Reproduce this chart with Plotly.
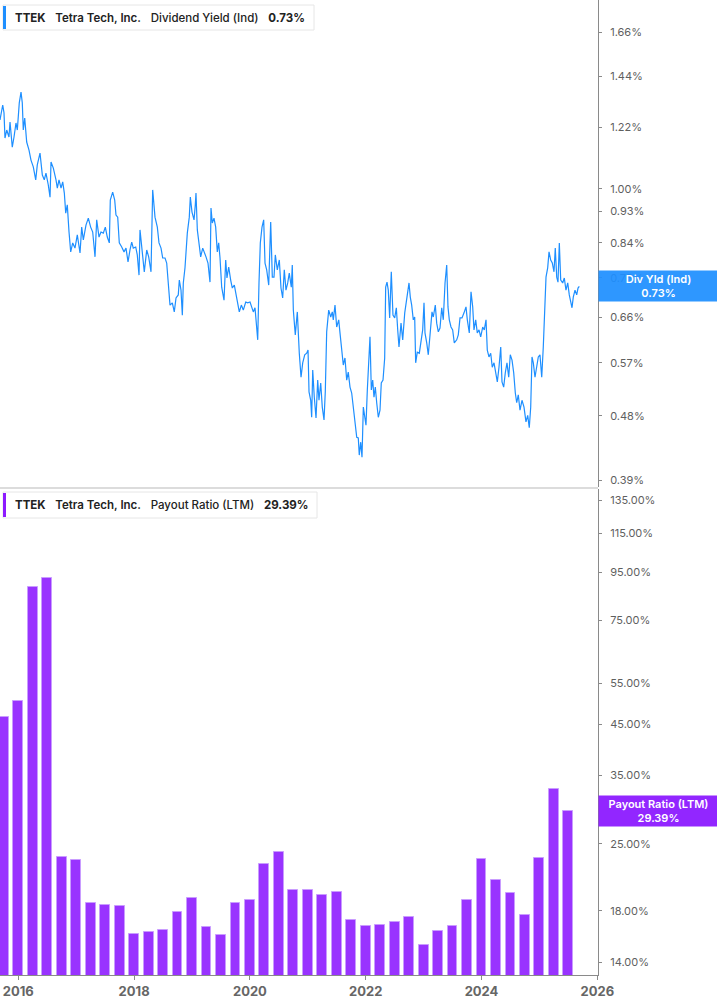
import math
import plotly.graph_objects as go

# ---------------- data ----------------
# Dividend yield (Ind), % — x in decimal years
dy_years = [
2015.684,2015.731,2015.753,2015.770,2015.800,2015.839,2015.857,2015.896,2015.926,2015.960,
2015.983,2016.017,2016.047,2016.069,2016.086,2016.111,2016.145,2016.185,2016.219,2016.259,
2016.301,2016.328,2016.375,2016.415,2016.449,2016.478,2016.518,2016.548,2016.565,2016.605,
2016.651,2016.674,2016.703,2016.738,2016.767,2016.795,2016.819,2016.846,2016.876,2016.905,
2016.940,2016.979,2017.019,2017.066,2017.095,2017.123,2017.169,2017.209,2017.250,2017.285,
2017.325,2017.354,2017.394,2017.428,2017.468,2017.503,2017.537,2017.572,2017.589,2017.630,
2017.665,2017.687,2017.717,2017.744,2017.786,2017.826,2017.860,2017.895,2017.929,2017.959,
2017.986,2018.028,2018.055,2018.085,2018.102,2018.142,2018.176,2018.218,2018.252,2018.292,
2018.321,2018.361,2018.401,2018.430,2018.465,2018.494,2018.534,2018.563,2018.591,2018.620,
2018.660,2018.694,2018.724,2018.763,2018.781,2018.810,2018.833,2018.850,2018.879,2018.919,
2018.953,2018.971,2019.000,2019.035,2019.057,2019.069,2019.092,2019.121,2019.150,2019.185,
2019.212,2019.242,2019.276,2019.311,2019.328,2019.351,2019.380,2019.409,2019.437,2019.461,
2019.484,2019.513,2019.553,2019.582,2019.604,2019.634,2019.668,2019.696,2019.731,2019.760,
2019.794,2019.817,2019.852,2019.886,2019.928,2019.962,2020.002,2020.031,2020.059,2020.088,
2020.118,2020.135,2020.157,2020.180,2020.209,2020.238,2020.261,2020.290,2020.325,2020.342,
2020.359,2020.387,2020.416,2020.439,2020.473,2020.508,2020.537,2020.566,2020.594,2020.623,
2020.653,2020.680,2020.715,2020.732,2020.750,2020.784,2020.819,2020.853,2020.883,2020.912,
2020.947,2020.981,2021.004,2021.021,2021.050,2021.067,2021.085,2021.112,2021.142,2021.171,
2021.193,2021.223,2021.250,2021.280,2021.302,2021.326,2021.361,2021.396,2021.423,2021.440,
2021.470,2021.499,2021.534,2021.556,2021.586,2021.613,2021.642,2021.672,2021.699,2021.729,
2021.758,2021.786,2021.815,2021.845,2021.872,2021.889,2021.914,2021.936,2021.959,2021.983,
2022.005,2022.028,2022.052,2022.074,2022.097,2022.121,2022.143,2022.166,2022.190,2022.218,
2022.247,2022.269,2022.299,2022.328,2022.345,2022.368,2022.390,2022.414,2022.442,2022.471,
2022.501,2022.529,2022.553,2022.575,2022.610,2022.639,2022.674,2022.701,2022.725,2022.748,
2022.770,2022.794,2022.822,2022.846,2022.863,2022.891,2022.926,2022.955,2022.984,2023.007,
2023.024,2023.054,2023.081,2023.111,2023.145,2023.167,2023.202,2023.226,2023.254,2023.283,
2023.313,2023.340,2023.370,2023.399,2023.421,2023.444,2023.473,2023.502,2023.530,2023.572,
2023.599,2023.629,2023.663,2023.698,2023.732,2023.755,2023.789,2023.819,2023.848,2023.870,
2023.900,2023.927,2023.957,2023.986,2024.021,2024.048,2024.078,2024.100,2024.129,2024.159,
2024.186,2024.216,2024.245,2024.273,2024.302,2024.332,2024.354,2024.383,2024.411,2024.440,
2024.470,2024.497,2024.527,2024.556,2024.584,2024.608,2024.635,2024.665,2024.699,2024.734,
2024.768,2024.798,2024.825,2024.850,2024.872,2024.895,2024.924,2024.953,2024.981,2025.010,
2025.040,2025.067,2025.092,2025.114,2025.143,2025.166,2025.195,2025.223,2025.252,2025.274,
2025.299,2025.321,2025.344,2025.368,2025.402,2025.430,2025.459,2025.489,2025.516,2025.546,
2025.563,2025.585,2025.615,2025.644,2025.667,2025.689,
]
dy_values = [
1.250,1.312,1.279,1.179,1.210,1.183,1.242,1.145,1.183,1.238,
1.210,1.321,1.368,1.321,1.210,1.258,1.164,1.134,1.098,1.074,
1.030,1.081,1.123,1.046,1.030,1.053,1.013,0.974,1.091,1.070,
1.030,1.003,1.030,1.003,1.023,0.987,0.925,0.950,0.870,0.816,
0.840,0.826,0.862,0.813,0.884,0.848,0.890,0.910,0.884,0.870,
0.803,0.905,0.856,0.870,0.867,0.884,0.856,0.840,0.965,0.990,
0.965,0.919,0.913,0.840,0.829,0.816,0.826,0.790,0.821,0.842,
0.826,0.829,0.808,0.757,0.876,0.813,0.765,0.821,0.803,0.765,
0.997,0.913,0.884,0.840,0.826,0.800,0.800,0.787,0.728,0.687,
0.692,0.672,0.703,0.710,0.745,0.721,0.665,0.738,0.775,0.867,
0.913,0.974,0.928,0.905,0.950,0.987,0.876,0.829,0.803,0.826,
0.816,0.803,0.787,0.740,0.940,0.896,0.910,0.884,0.816,0.840,
0.800,0.728,0.698,0.795,0.750,0.777,0.745,0.726,0.733,0.714,
0.692,0.672,0.687,0.676,0.694,0.692,0.694,0.683,0.672,0.681,
0.628,0.614,0.738,0.840,0.884,0.905,0.787,0.770,0.733,0.856,
0.899,0.752,0.752,0.808,0.770,0.795,0.726,0.703,0.770,0.721,
0.738,0.762,0.728,0.782,0.676,0.624,0.672,0.588,0.544,0.570,
0.585,0.588,0.594,0.519,0.505,0.478,0.557,0.510,0.477,0.539,
0.505,0.534,0.494,0.474,0.519,0.630,0.676,0.661,0.672,0.655,
0.687,0.640,0.655,0.628,0.600,0.566,0.579,0.539,0.553,0.527,
0.517,0.494,0.474,0.448,0.447,0.423,0.441,0.420,0.494,0.474,
0.466,0.522,0.570,0.620,0.522,0.539,0.510,0.527,0.501,0.478,
0.489,0.534,0.539,0.579,0.728,0.740,0.721,0.659,0.765,0.665,
0.659,0.681,0.634,0.600,0.648,0.614,0.670,0.692,0.721,0.738,
0.705,0.687,0.655,0.661,0.570,0.590,0.588,0.610,0.634,0.692,
0.628,0.608,0.585,0.624,0.672,0.661,0.687,0.648,0.630,0.638,
0.681,0.655,0.738,0.782,0.683,0.655,0.640,0.634,0.608,0.614,
0.624,0.659,0.659,0.670,0.683,0.655,0.628,0.717,0.683,0.634,
0.655,0.628,0.634,0.620,0.640,0.634,0.655,0.594,0.581,0.588,
0.562,0.570,0.552,0.536,0.562,0.600,0.536,0.527,0.552,0.570,
0.544,0.585,0.575,0.552,0.517,0.501,0.514,0.489,0.505,0.494,
0.471,0.481,0.462,0.494,0.581,0.570,0.544,0.562,0.581,0.585,
0.544,0.600,0.676,0.752,0.775,0.816,0.795,0.787,0.765,0.826,
0.752,0.740,0.840,0.745,0.738,0.750,0.721,0.738,0.710,0.694,
0.681,0.705,0.721,0.710,0.726,0.730,
]

# Payout ratio (LTM), % — quarterly, decimal-year x
pr_quarters = [
2015.75,2016.00,2016.25,2016.50,2016.75,2017.00,2017.25,2017.50,2017.75,2018.00,
2018.25,2018.50,2018.75,2019.00,2019.25,2019.50,2019.75,2020.00,2020.25,2020.50,
2020.75,2021.00,2021.25,2021.50,2021.75,2022.00,2022.25,2022.50,2022.75,2023.00,
2023.25,2023.50,2023.75,2024.00,2024.25,2024.50,2024.75,2025.00,2025.25,2025.50,
]
pr_values = [
46.6,50.4,88.3,92.2,23.5,23.1,18.7,18.5,18.4,16.1,
16.2,16.4,17.9,19.2,16.6,16.0,18.7,19.0,22.7,24.0,
19.9,19.9,19.5,19.7,17.2,16.7,16.8,17.0,17.5,15.2,
16.3,16.7,19.0,23.2,20.9,19.6,17.6,23.3,32.8,29.39,
]

dy_ticks = [0.39, 0.48, 0.57, 0.66, 0.75, 0.84, 0.93, 1.00, 1.22, 1.44, 1.66]
pr_ticks = [14, 18, 25, 35, 45, 55, 75, 95, 115, 135]
year_ticks = [2016, 2018, 2020, 2022, 2024, 2026]

# ---------------- style ----------------
BLUE = "#1e8fff"
PURPLE = "#9933ff"
PURPLE_BOX = "#8c1aff"
FONT = "Inter"
W, H = 717, 1005
PLOT_W = 598          # plot area width in px
PLOT_H = 975          # plot area height in px

def px_x(p):
    return p / PLOT_W

def px_y(p):
    return (PLOT_H - p) / PLOT_H

fig = go.Figure()

fig.add_trace(go.Scatter(
    x=dy_years, y=dy_values, mode="lines",
    line=dict(color=BLUE, width=1.2),
    xaxis="x", yaxis="y", hoverinfo="skip", showlegend=False,
))

fig.add_trace(go.Bar(
    x=pr_quarters, y=pr_values, width=0.17,
    marker=dict(color=PURPLE, line=dict(color="#c99cff", width=1)),
    xaxis="x2", yaxis="y2", hoverinfo="skip", showlegend=False,
))

xrange = [2015.684, 2026.012]

tick_font = dict(family=FONT, size=11, color="#5f5f5f")

fig.update_layout(
    width=W, height=H,
    margin=dict(l=0, r=W - PLOT_W, t=0, b=H - PLOT_H),
    paper_bgcolor="white", plot_bgcolor="white",
    font=dict(family=FONT),
    bargap=0,
    xaxis=dict(domain=[0, 1], range=xrange, visible=False, anchor="y"),
    xaxis2=dict(
        domain=[0, 1], range=xrange, anchor="y2",
        tickvals=year_ticks, ticktext=[str(y) for y in year_ticks],
        tickfont=dict(family=FONT, size=13, color="#666666", weight=700),
        ticks="outside", ticklen=4, tickcolor="#8a8a8a",
        showline=True, linecolor="#8a8a8a", linewidth=1,
        showgrid=False, zeroline=False,
    ),
    yaxis=dict(
        domain=[px_y(487), 1], type="log",
        range=[-0.4185, 0.2654], side="right", anchor="x",
        tickvals=dy_ticks, ticktext=[f"{v:.2f}%" for v in dy_ticks],
        tickfont=tick_font, ticks="outside", ticklen=3, tickcolor="#8a8a8a",
        showline=True, linecolor="#8a8a8a", linewidth=1, mirror=False,
        showgrid=False, zeroline=False, ticklabelstandoff=6,
    ),
    yaxis2=dict(
        domain=[0, px_y(489)], type="log",
        range=[1.1184, 2.1547], side="right", anchor="x2",
        tickvals=pr_ticks, ticktext=[f"{v:.2f}%" for v in pr_ticks],
        tickfont=tick_font, ticks="outside", ticklen=3, tickcolor="#8a8a8a",
        showline=True, linecolor="#8a8a8a", linewidth=1,
        showgrid=False, zeroline=False, ticklabelstandoff=6,
    ),
)

shapes = []
# divider between panels
shapes.append(dict(type="line", xref="paper", yref="paper",
                   x0=0, x1=1, y0=px_y(488), y1=px_y(488),
                   line=dict(color="#dcdcdc", width=2)))

# legend boxes
def legend_box(top, bottom, right, accent):
    shapes.append(dict(type="rect", xref="paper", yref="paper",
                       x0=px_x(3), x1=px_x(right), y0=px_y(bottom), y1=px_y(top),
                       line=dict(color="#e6e6e6", width=1), fillcolor="white", layer="above"))
    shapes.append(dict(type="rect", xref="paper", yref="paper",
                       x0=px_x(3), x1=px_x(6), y0=px_y(bottom - 1), y1=px_y(top + 1),
                       line=dict(width=0), fillcolor=accent, layer="above"))

legend_box(5, 30, 314, BLUE)
legend_box(492, 518, 317, PURPLE_BOX)
fig.update_layout(shapes=shapes)

sp = "\u00a0\u00a0\u00a0"
def legend_text(metric, value):
    return (f"<b>TTEK</b>{sp}<span style='font-weight:600'>Tetra Tech, Inc.</span>"
            f"{sp}<span style='font-weight:500'>{metric}</span>{sp}<b>{value}</b>")

annotations = [
    dict(xref="paper", yref="paper", x=px_x(13), y=px_y(17.5),
         xanchor="left", yanchor="middle", showarrow=False,
         text=legend_text("Dividend Yield (Ind)", f"{dy_values[-1]:.2f}%"),
         font=dict(family=FONT, size=11.5, color="#222222")),
    dict(xref="paper", yref="paper", x=px_x(13), y=px_y(505),
         xanchor="left", yanchor="middle", showarrow=False,
         text=legend_text("Payout Ratio (LTM)", f"{pr_values[-1]:.2f}%"),
         font=dict(family=FONT, size=11.5, color="#222222")),
    dict(xref="paper", yref="y", x=1, y=math.log10(dy_values[-1]),
         xanchor="left", yanchor="middle", showarrow=False,
         text=f"Div Yld (Ind)<br>{dy_values[-1]:.2f}%",
         font=dict(family=FONT, size=11, color="white", weight=600),
         bgcolor="rgba(30,143,255,0.93)", width=117, height=28, borderpad=1, align="center"),
    dict(xref="paper", yref="y2", x=1, y=math.log10(pr_values[-1]),
         xanchor="left", yanchor="middle", showarrow=False,
         text=f"Payout Ratio (LTM)<br>{pr_values[-1]:.2f}%",
         font=dict(family=FONT, size=11, color="white", weight=600),
         bgcolor="rgba(140,26,255,0.95)", width=117, height=28, borderpad=1, align="center"),
]
fig.update_layout(annotations=annotations)

fig.write_html(
    "out.html",
    config={"displayModeBar": False},
    post_script="document.body.style.margin='0px';document.body.style.padding='0px';",
)
